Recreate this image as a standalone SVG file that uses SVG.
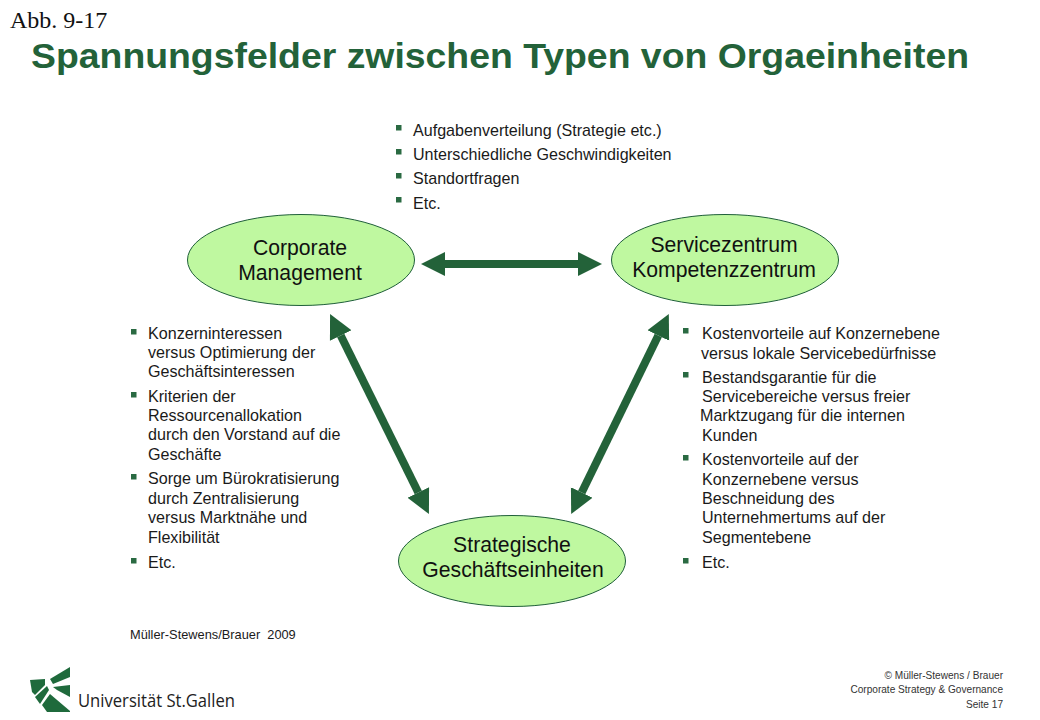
<svg xmlns="http://www.w3.org/2000/svg" width="1040" height="720" viewBox="0 0 1040 720">
<style>
text{font-family:"Liberation Sans",Arial,sans-serif;fill:#1a1a1a}
.t{font-size:16.1px}
.n{font-size:21.2px;text-anchor:middle;fill:#111}
.f{font-size:10.1px;text-anchor:end;fill:#333}
.b{fill:#2a6a42}
ellipse{fill:#bff8a0;stroke:#1f5f3a;stroke-width:1}
.c{stroke:#236239;stroke-width:8;fill:none;marker-start:url(#a);marker-end:url(#a)}
</style>
<defs>
<marker id="a" markerUnits="userSpaceOnUse" markerWidth="26" markerHeight="26" refX="0" refY="13" orient="auto-start-reverse"><path d="M0 1L24 13L0 25Z" fill="#236239"/></marker>
<rect id="s" width="5.5" height="5.5" class="b"/>
</defs>
<rect width="1040" height="720" fill="#fff"/>
<text x="10" y="28" style="font-family:'Liberation Serif',serif;font-size:24px;fill:#111">Abb. 9-17</text>
<text x="31" y="68" style="font-size:35px;font-weight:bold;fill:#236239" textLength="938" lengthAdjust="spacingAndGlyphs">Spannungsfelder zwischen Typen von Orgaeinheiten</text>
<g id="connectors">
<line class="c" x1="445" y1="264" x2="578" y2="264"/>
<line class="c" x1="340.700" y1="335.500" x2="418.300" y2="492.500"/>
<line class="c" x1="658.300" y1="335.500" x2="581.700" y2="492.500"/>
</g>
<g id="node-corporate"><ellipse cx="301" cy="260" rx="113.500" ry="45.500"/><text class="n" x="300" y="255">Corporate</text><text class="n" x="300" y="280">Management</text></g>
<g id="node-service"><ellipse cx="725" cy="260" rx="113.500" ry="45.500"/><text class="n" x="724" y="252">Servicezentrum</text><text class="n" x="724" y="277">Kompetenzzentrum</text></g>
<g id="node-sge"><ellipse cx="512" cy="561" rx="113.500" ry="45.500"/><text class="n" x="512" y="552">Strategische</text><text class="n" x="513" y="577">Geschäftseinheiten</text></g>
<g id="list-top">
<use href="#s" x="396" y="125"/><text class="t" x="413" y="136">Aufgabenverteilung (Strategie etc.)</text>
<use href="#s" x="396" y="149"/><text class="t" x="413" y="160">Unterschiedliche Geschwindigkeiten</text>
<use href="#s" x="396" y="173"/><text class="t" x="413" y="184">Standortfragen</text>
<use href="#s" x="396" y="197"/><text class="t" x="413" y="209">Etc.</text>
</g>
<g id="list-left">
<use href="#s" x="131" y="329"/><text class="t" x="148" y="339">Konzerninteressen</text>
<text class="t" x="148" y="358">versus Optimierung der</text>
<text class="t" x="148" y="377">Geschäftsinteressen</text>
<use href="#s" x="131" y="392"/><text class="t" x="148" y="402">Kriterien der</text>
<text class="t" x="148" y="421">Ressourcenallokation</text>
<text class="t" x="148" y="440">durch den Vorstand auf die</text>
<text class="t" x="148" y="460">Geschäfte</text>
<use href="#s" x="131" y="474"/><text class="t" x="148" y="484">Sorge um Bürokratisierung</text>
<text class="t" x="148" y="504">durch Zentralisierung</text>
<text class="t" x="148" y="523">versus Marktnähe und</text>
<text class="t" x="148" y="543">Flexibilität</text>
<use href="#s" x="131" y="558"/><text class="t" x="148" y="568">Etc.</text>
</g>
<g id="list-right">
<use href="#s" x="683" y="328"/><text class="t" x="702" y="339">Kostenvorteile auf Konzernebene</text>
<text class="t" x="701" y="359">versus lokale Servicebedürfnisse</text>
<use href="#s" x="683" y="372"/><text class="t" x="702" y="383">Bestandsgarantie für die</text>
<text class="t" x="702" y="402">Servicebereiche versus freier</text>
<text class="t" x="700" y="421">Marktzugang für die internen</text>
<text class="t" x="702" y="441">Kunden</text>
<use href="#s" x="683" y="455"/><text class="t" x="702" y="465">Kostenvorteile auf der</text>
<text class="t" x="702" y="485">Konzernebene versus</text>
<text class="t" x="702" y="504">Beschneidung des</text>
<text class="t" x="702" y="523">Unternehmertums auf der</text>
<text class="t" x="702" y="543">Segmentebene</text>
<use href="#s" x="683" y="558"/><text class="t" x="702" y="568">Etc.</text>
</g>
<text x="130" y="639" xml:space="preserve" style="font-size:12.8px;white-space:pre">Müller-Stewens/Brauer  2009</text>
<g id="logo">
<g fill="#1f6a3c">
<path d="M30 680L45 679L45 685L35 695L32 692Z"/>
<path d="M50 679L70 667L70 677L53 684Z"/>
<path d="M53 687L70 685L70 697L57 690Z"/>
<path d="M35 697L47 686L49 690L40 704Z"/>
<path d="M50 694L70 711L70 712L47 712L42 705Z"/>
</g>
<text x="78" y="707" style="font-family:'Open Sans','Liberation Sans',sans-serif;font-size:18px;fill:#222" textLength="157" lengthAdjust="spacingAndGlyphs">Universität St.Gallen</text>
</g>
<g id="footer">
<text class="f" x="1003" y="679">© Müller-Stewens / Brauer</text>
<text class="f" x="1003" y="693">Corporate Strategy &amp; Governance</text>
<text class="f" x="1003" y="708">Seite 17</text>
</g>
</svg>
